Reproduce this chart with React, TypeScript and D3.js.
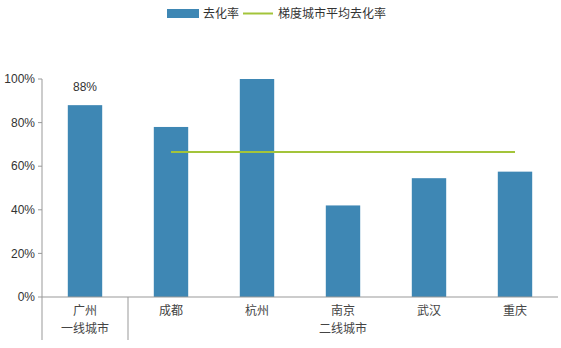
import React from "react";
import * as d3 from "d3";

const categories = ["广州", "成都", "杭州", "南京", "武汉", "重庆"];
const groups = [
  { name: "一线城市", from: 0, to: 0 },
  { name: "二线城市", from: 1, to: 5 },
];
const rates = [0.88, 0.78, 1.0, 0.42, 0.545, 0.575];
const avgRate = 0.665;
const avgFrom = 1;
const yTicks = [0, 0.2, 0.4, 0.6, 0.8, 1.0];
const legendLabels = ["去化率", "梯度城市平均去化率"];

const W = 561;
const H = 348;
const left = 42;
const right = 558;
const top = 79;
const bottom = 297;
const BLUE = "#3E87B4";
const GREEN = "#A3C43A";
const FONT = "'Noto Sans CJK SC', 'Liberation Sans', sans-serif";

export default function App() {
  const x = d3.scaleBand<string>().domain(categories).range([left, right]).paddingInner(0.6).paddingOuter(0.3);
  const band = d3.scaleBand<string>().domain(categories).range([left, right]);
  const y = d3.scaleLinear().domain([0, 1]).range([bottom, top]);
  const bw = x.bandwidth();
  const cx = (c: string) => (x(c) as number) + bw / 2;

  const avgLine = d3.line<string>().x((c) => cx(c)).y(() => y(avgRate));

  return (
    <svg
      width={W}
      height={H}
      style={{ position: "absolute", left: 0, top: 0, background: "#fff" }}
      fontFamily={FONT}
    >
      {/* legend */}
      <rect x={167} y={9} width={32} height={9} fill={BLUE} />
      <text x={203} y={18} fontSize={12} fill="#333">{legendLabels[0]}</text>
      <line x1={243} x2={273} y1={13.5} y2={13.5} stroke={GREEN} strokeWidth={2} />
      <text x={278} y={18} fontSize={12} fill="#333">{legendLabels[1]}</text>

      {/* y axis */}
      <line x1={left} x2={left} y1={top} y2={bottom} stroke="#999" />
      {yTicks.map((t) => (
        <g key={t}>
          <line x1={left - 4} x2={left} y1={y(t)} y2={y(t)} stroke="#999" />
          <text x={left - 7} y={y(t)} dy="0.35em" textAnchor="end" fontSize={12} fill="#333" fontFamily="'Liberation Sans', sans-serif">
            {d3.format(".0%")(t)}
          </text>
        </g>
      ))}

      {/* bars */}
      {categories.map((c, i) => (
        <rect key={c} x={x(c)} y={y(rates[i])} width={bw} height={bottom - y(rates[i])} fill={BLUE} />
      ))}
      <text x={cx(categories[0])} y={y(rates[0]) - 14} textAnchor="middle" fontSize={12} fill="#333" fontFamily="'Liberation Sans', sans-serif">
        {d3.format(".0%")(rates[0])}
      </text>

      {/* average line */}
      <path d={avgLine(categories.slice(avgFrom)) || ""} fill="none" stroke={GREEN} strokeWidth={2} />

      {/* x axis */}
      <line x1={left} x2={right} y1={bottom} y2={bottom} stroke="#999" />
      {groups.map((g) => {
        const x0 = band(categories[g.from]) as number;
        const x1 = (band(categories[g.to]) as number) + band.bandwidth();
        return (
          <g key={g.name}>
            <line x1={x0} x2={x0} y1={bottom} y2={340} stroke="#999" />
            <text x={(x0 + x1) / 2} y={333} textAnchor="middle" fontSize={12} fill="#444">{g.name}</text>
          </g>
        );
      })}
      {categories.map((c) => (
        <text key={c} x={cx(c)} y={315} textAnchor="middle" fontSize={12} fill="#444">{c}</text>
      ))}
    </svg>
  );
}
